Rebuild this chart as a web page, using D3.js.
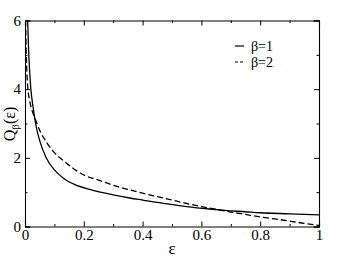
<!DOCTYPE html>
<html>
<head>
<meta charset="utf-8">
<script src="https://cdn.jsdelivr.net/npm/d3@7"></script>
<style>
  body { margin: 0; background: #fff; }
  svg text { font-family: "Liberation Serif", "Times New Roman", Times, Tinos, "DejaVu Serif", "Noto Serif", serif !important; }
</style>
</head>
<body>
<svg id="chart" width="353" height="262"></svg>
<script>
// ---- data ----
const eps1 = [0.009, 0.012, 0.016, 0.02, 0.028, 0.036, 0.05, 0.072, 0.1, 0.132, 0.17, 0.22, 0.3, 0.356, 0.4, 0.49, 0.55, 0.627, 0.68, 0.75, 0.8, 0.9, 1.0];
const q1   = [6.0, 5.2, 4.5, 4.0, 3.45, 3.0, 2.5, 2.0, 1.65, 1.4, 1.22, 1.08, 0.92, 0.83, 0.77, 0.65, 0.58, 0.51, 0.47, 0.43, 0.40, 0.37, 0.34];
const eps2 = [0.002, 0.004, 0.007, 0.01, 0.015, 0.02, 0.028, 0.036, 0.05, 0.075, 0.1, 0.13, 0.16, 0.2, 0.25, 0.3, 0.35, 0.4, 0.45, 0.5, 0.55, 0.6, 0.65, 0.7, 0.75, 0.8, 0.85, 0.9, 0.95, 1.0];
const q2   = [6.0, 5.1, 4.4, 4.0, 3.7, 3.5, 3.28, 3.1, 2.8, 2.43, 2.15, 1.92, 1.72, 1.5, 1.35, 1.2, 1.08, 0.97, 0.87, 0.77, 0.67, 0.58, 0.5, 0.42, 0.35, 0.28, 0.22, 0.16, 0.09, 0.03];
const xMajor = [0, 0.2, 0.4, 0.6, 0.8, 1];
const xMinor = [0.1, 0.3, 0.5, 0.7, 0.9];
const yMajor = [0, 2, 4, 6];
const yMinor = [1, 3, 5];
const xTickLabels = ["0", "0.2", "0.4", "0.6", "0.8", "1"];
const yTickLabels = ["0", "2", "4", "6"];
const seriesNames = ["\u03b2=1", "\u03b2=2"];

// ---- layout ----
const svg = d3.select("#chart");
const L = 25, R = 319, T = 20.5, B = 226.5;
const x = d3.scaleLinear().domain([0, 1]).range([L, R]);
const y = d3.scaleLinear().domain([0, 6]).range([B, T]);

svg.append("defs").append("clipPath").attr("id", "clip")
  .append("rect").attr("x", L).attr("y", T).attr("width", R - L).attr("height", B - T);

function styleAxis(g) {
  g.attr("font-family", null);
  g.select(".domain").attr("stroke", "#000").attr("stroke-width", 1.1);
  g.selectAll(".tick line").attr("stroke", "#000").attr("stroke-width", 1);
  g.selectAll(".tick text").attr("font-size", 15).attr("fill", "#000");
}

// bottom
svg.append("g").attr("transform", `translate(0,${B})`)
  .call(d3.axisBottom(x).tickValues(xMajor).tickSize(-5).tickPadding(3)
    .tickFormat((d, i) => xTickLabels[i])).call(styleAxis);
svg.append("g").attr("transform", `translate(0,${B})`)
  .call(d3.axisBottom(x).tickValues(xMinor).tickSize(-2.5).tickFormat(""))
  .call(styleAxis).select(".domain").remove();
// top
svg.append("g").attr("transform", `translate(0,${T})`)
  .call(d3.axisTop(x).tickValues(xMajor).tickSize(-5).tickFormat("")).call(styleAxis);
svg.append("g").attr("transform", `translate(0,${T})`)
  .call(d3.axisTop(x).tickValues(xMinor).tickSize(-2.5).tickFormat(""))
  .call(styleAxis).select(".domain").remove();
// left
svg.append("g").attr("transform", `translate(${L},0)`)
  .call(d3.axisLeft(y).tickValues(yMajor).tickSize(-5).tickPadding(4)
    .tickFormat((d, i) => yTickLabels[i])).call(styleAxis);
svg.append("g").attr("transform", `translate(${L},0)`)
  .call(d3.axisLeft(y).tickValues(yMinor).tickSize(-2.5).tickFormat(""))
  .call(styleAxis).select(".domain").remove();
// right
svg.append("g").attr("transform", `translate(${R},0)`)
  .call(d3.axisRight(y).tickValues(yMajor).tickSize(-5).tickFormat("")).call(styleAxis);
svg.append("g").attr("transform", `translate(${R},0)`)
  .call(d3.axisRight(y).tickValues(yMinor).tickSize(-2.5).tickFormat(""))
  .call(styleAxis).select(".domain").remove();

svg.selectAll(".domain").attr("stroke-linecap", "square");

// ---- curves ----
const line = d3.line().x(d => x(d[0])).y(d => y(d[1])).curve(d3.curveMonotoneX);
const plot = svg.append("g").attr("clip-path", "url(#clip)");
plot.append("path").datum(eps1.map((e, i) => [e, q1[i]]))
  .attr("d", line).attr("fill", "none").attr("stroke", "#000").attr("stroke-width", 1.3);
plot.append("path").datum(eps2.map((e, i) => [e, q2[i]]))
  .attr("d", line).attr("fill", "none").attr("stroke", "#000").attr("stroke-width", 1.3)
  .attr("stroke-dasharray", "6,3");

// ---- legend ----
const leg = svg.append("g");
[0, 1].forEach(i => {
  const yy = 46 + i * 16;
  leg.append("line").attr("x1", 235).attr("x2", 244).attr("y1", yy).attr("y2", yy)
    .attr("stroke", "#000").attr("stroke-width", 1.2)
    .attr("stroke-dasharray", i === 1 ? "3,2" : null);
  leg.append("text").attr("x", 251).attr("y", yy + 4.5).attr("font-size", 14)
    .text(seriesNames[i]);
});

// ---- axis titles ----
svg.append("text").attr("x", (L + R) / 2).attr("y", 254).attr("text-anchor", "middle")
  .attr("font-size", 17).text("\u03b5");
const yl = svg.append("text").attr("transform", "translate(15,124) rotate(-90)")
  .attr("text-anchor", "middle").attr("font-size", 16);
yl.append("tspan").text("Q");
yl.append("tspan").attr("font-size", 11).attr("dy", 4).text("\u03b2");
yl.append("tspan").attr("dy", -4).text("(\u03b5)");
</script>
</body>
</html>
